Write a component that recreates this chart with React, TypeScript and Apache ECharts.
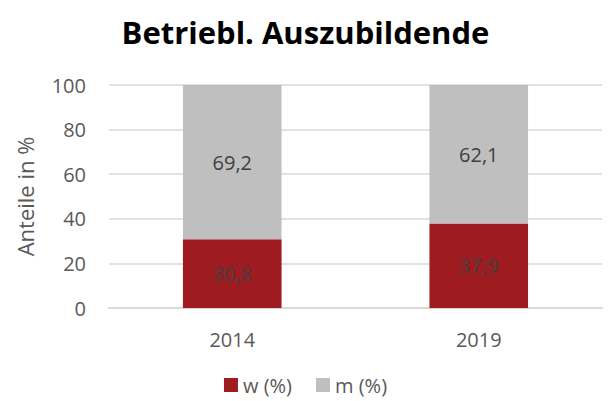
import React, { useEffect, useRef } from "react";
import * as echarts from "echarts";

const categories = ["2014", "2019"];
const wValues = [30.8, 37.9];
const mValues = [69.2, 62.1];
const seriesNames = ["w (%)", "m (%)"];
const titleText = "Betriebl. Auszubildende";
const yAxisName = "Anteile in %";

const fmt = (v: number) => v.toFixed(1).replace(".", ",");

export default function App() {
  const ref = useRef<HTMLDivElement>(null);
  useEffect(() => {
    if (!ref.current) return;
    const chart = echarts.init(ref.current, undefined, { renderer: "svg" });
    const font = "Open Sans, Noto Sans, sans-serif";
    chart.setOption({
      animation: false,
      textStyle: { fontFamily: font },
      title: {
        text: titleText,
        left: "center",
        top: 11,
        textStyle: { fontSize: 31, fontWeight: "bold", color: "#000", fontFamily: font },
      },
      legend: {
        bottom: 1,
        left: "center",
        itemWidth: 14,
        itemHeight: 14,
        itemGap: 24,
        icon: "rect",
        textStyle: { fontSize: 20, color: "#595959", fontFamily: font },
        data: seriesNames,
      },
      grid: { left: 109, right: 9, top: 85, bottom: 93 },
      xAxis: {
        type: "category",
        data: categories,
        axisLine: { lineStyle: { color: "#d9d9d9", width: 2 } },
        axisTick: { show: false },
        axisLabel: { fontSize: 20, color: "#595959", margin: 21 },
      },
      yAxis: {
        type: "value",
        min: 0,
        max: 100,
        interval: 20,
        name: yAxisName,
        nameLocation: "middle",
        nameGap: 73,
        nameTextStyle: { fontSize: 22, color: "#595959" },
        axisLine: { show: false },
        axisTick: { show: false },
        axisLabel: { fontSize: 20, color: "#595959", margin: 23 },
        splitLine: { lineStyle: { color: "#d9d9d9", width: 1.5 } },
      },
      series: [
        {
          name: seriesNames[0],
          type: "bar",
          stack: "a",
          data: wValues,
          barWidth: "40%",
          itemStyle: { color: "#9e1c20" },
          label: { show: true, position: "inside", fontSize: 20, color: "#404040", formatter: (p: any) => fmt(p.value) },
        },
        {
          name: seriesNames[1],
          type: "bar",
          stack: "a",
          data: mValues,
          barWidth: "40%",
          itemStyle: { color: "#bfbfbf" },
          label: { show: true, position: "inside", fontSize: 20, color: "#404040", formatter: (p: any) => fmt(p.value) },
        },
      ],
    });
    return () => chart.dispose();
  }, []);
  return <div ref={ref} style={{ position: "absolute", left: 0, top: 0, width: 611, height: 401 }} />;
}
